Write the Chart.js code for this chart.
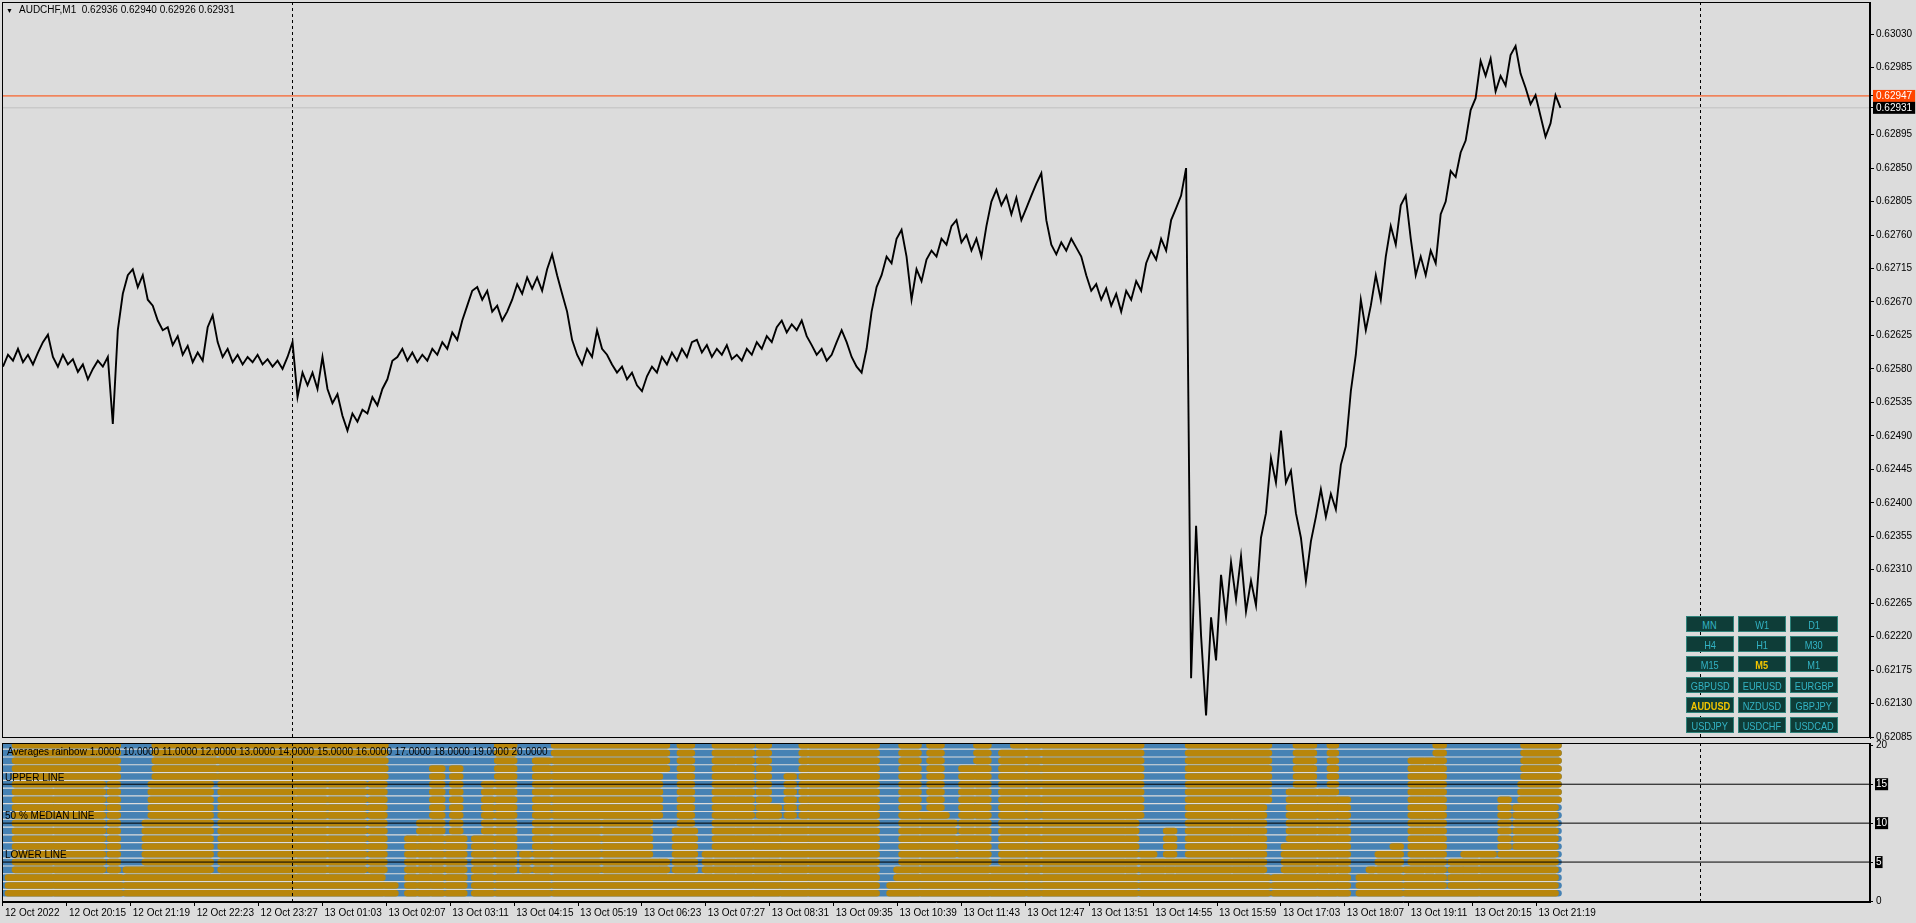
<!DOCTYPE html>
<html>
<head>
<meta charset="utf-8">
<script src="https://cdn.jsdelivr.net/npm/chart.js@4.4.0/dist/chart.umd.min.js"></script>
<style>
html, body { margin:0; padding:0; background:#dcdcdc; width:1916px; height:923px; overflow:hidden; font-family:'Liberation Sans', Arial, sans-serif; }
canvas { position:absolute; left:0; }
#priceChart { top:0; }
#rainbowChart { top:736px; }
.lbl { position:absolute; font-size:10px; color:#000; white-space:pre; line-height:12px; }
.btn { position:absolute; width:46px; height:14px; background:#0e3d38; border:1px solid #2e827a; color:#33b3c4; text-align:center; line-height:14px; overflow:hidden; }
.btn span { display:inline-block; font-size:11px; transform:scaleX(0.84); }
.btn.on { color:#f2c500; }
.btn.on span { font-weight:bold; }
</style>
</head>
<body>
<canvas id="priceChart" width="1916" height="741"></canvas>
<canvas id="rainbowChart" width="1916" height="187"></canvas>
<div class="lbl" style="left:6px;top:5px;font-size:7px;">&#9660;</div>
<div class="lbl" style="left:19px;top:4px;">AUDCHF,M1  0.62936 0.62940 0.62926 0.62931</div>
<div class="lbl" style="left:7px;top:746px;">Averages rainbow 1.0000 10.0000 11.0000 12.0000 13.0000 14.0000 15.0000 16.0000 17.0000 18.0000 19.0000 20.0000</div>
<div id="levelLabels"></div>
<div id="buttons"></div>
<script>
// bar axis labels (one every 64 bars)
var xTickLabels = ["12 Oct 2022", "12 Oct 20:15", "12 Oct 21:19", "12 Oct 22:23", "12 Oct 23:27",
    "13 Oct 01:03", "13 Oct 02:07", "13 Oct 03:11", "13 Oct 04:15", "13 Oct 05:19", "13 Oct 06:23",
    "13 Oct 07:27", "13 Oct 08:31", "13 Oct 09:35", "13 Oct 10:39", "13 Oct 11:43", "13 Oct 12:47",
    "13 Oct 13:51", "13 Oct 14:55", "13 Oct 15:59", "13 Oct 17:03", "13 Oct 18:07", "13 Oct 19:11",
    "13 Oct 20:15", "13 Oct 21:19"];
var barsPerLabel = 64;

var priceTicks = [0.62085, 0.62130, 0.62175, 0.62220, 0.62265, 0.62310, 0.62355, 0.62400, 0.62445,
    0.62490, 0.62535, 0.62580, 0.62625, 0.62670, 0.62715, 0.62760, 0.62805, 0.62850, 0.62895,
    0.62985, 0.63030];
var bidPrice = 0.62947;
var lastPrice = 0.62931;
var separatorBars = [289, 1700];

// AUDCHF M1 closes, one every 5 bars
var closeStep = 5;
var closes = [
    0.62583, 0.62599, 0.62591, 0.62607, 0.62589, 0.62599, 0.62586, 0.62602, 0.62616, 0.62626,
    0.62596, 0.62583, 0.62599, 0.62586, 0.62593, 0.62576, 0.62586, 0.62566, 0.62580, 0.62591,
    0.62583, 0.62596, 0.62506, 0.62632, 0.62681, 0.62706, 0.62714, 0.62690, 0.62706, 0.62673,
    0.62665, 0.62645, 0.62632, 0.62636, 0.62612, 0.62624, 0.62599, 0.62611, 0.62589, 0.62602,
    0.62591, 0.62636, 0.62652, 0.62616, 0.62596, 0.62607, 0.62589, 0.62599, 0.62586, 0.62596,
    0.62589, 0.62599, 0.62586, 0.62593, 0.62583, 0.62591, 0.62580, 0.62596, 0.62616, 0.62542,
    0.62575, 0.62558, 0.62575, 0.62553, 0.62596, 0.62553, 0.62534, 0.62546, 0.62517, 0.62497,
    0.62520, 0.62509, 0.62525, 0.62520, 0.62542, 0.62531, 0.62553, 0.62566, 0.62591, 0.62596,
    0.62607, 0.62591, 0.62602, 0.62589, 0.62599, 0.62591, 0.62607, 0.62599, 0.62616, 0.62607,
    0.62629, 0.62619, 0.62645, 0.62665, 0.62685, 0.62690, 0.62673, 0.62685, 0.62657, 0.62665,
    0.62645, 0.62657, 0.62673, 0.62694, 0.62681, 0.62703, 0.62688, 0.62703, 0.62685, 0.62714,
    0.62734, 0.62706, 0.62681, 0.62657, 0.62619, 0.62599, 0.62586, 0.62607, 0.62596, 0.62632,
    0.62607, 0.62599, 0.62586, 0.62575, 0.62583, 0.62566, 0.62575, 0.62558, 0.62550, 0.62570,
    0.62583, 0.62575, 0.62596, 0.62586, 0.62602, 0.62591, 0.62607, 0.62596, 0.62616, 0.62619,
    0.62602, 0.62612, 0.62596, 0.62607, 0.62599, 0.62612, 0.62593, 0.62599, 0.62591, 0.62607,
    0.62599, 0.62616, 0.62607, 0.62624, 0.62616, 0.62636, 0.62645, 0.62629, 0.62640, 0.62632,
    0.62645, 0.62624, 0.62612, 0.62599, 0.62607, 0.62591, 0.62599, 0.62616, 0.62632, 0.62616,
    0.62596, 0.62583, 0.62575, 0.62607, 0.62657, 0.62690, 0.62706, 0.62731, 0.62722, 0.62755,
    0.62767, 0.62731, 0.62673, 0.62714, 0.62698, 0.62727, 0.62739, 0.62731, 0.62755, 0.62747,
    0.62772, 0.62780, 0.62750, 0.62760, 0.62739, 0.62755, 0.62731, 0.62772, 0.62805, 0.62821,
    0.62800, 0.62813, 0.62788, 0.62810, 0.62780, 0.62796, 0.62813, 0.62829, 0.62843, 0.62780,
    0.62747, 0.62734, 0.62750, 0.62739, 0.62755, 0.62743, 0.62731, 0.62706, 0.62685, 0.62694,
    0.62673, 0.62688, 0.62665, 0.62681, 0.62657, 0.62685, 0.62673, 0.62698, 0.62685, 0.62722,
    0.62739, 0.62727, 0.62755, 0.62739, 0.62780, 0.62796, 0.62813, 0.62850, 0.62164, 0.62369,
    0.62221, 0.62114, 0.62246, 0.62188, 0.62303, 0.62246, 0.62320, 0.62270, 0.62328, 0.62254,
    0.62295, 0.62262, 0.62353, 0.62386, 0.62460, 0.62427, 0.62497, 0.62427, 0.62443, 0.62386,
    0.62353, 0.62295, 0.62348, 0.62381, 0.62418, 0.62381, 0.62412, 0.62391, 0.62451, 0.62476,
    0.62550, 0.62599, 0.62673, 0.62632, 0.62665, 0.62706, 0.62673, 0.62731, 0.62772, 0.62747,
    0.62800, 0.62813, 0.62755, 0.62706, 0.62731, 0.62706, 0.62739, 0.62722, 0.62788, 0.62805,
    0.62846, 0.62838, 0.62871, 0.62887, 0.62928, 0.62944, 0.62994, 0.62974, 0.62997, 0.62953,
    0.62974, 0.62961, 0.63002, 0.63014, 0.62977, 0.62958, 0.62936, 0.62948, 0.62920, 0.62892,
    0.62910, 0.62948, 0.62931];

// Averages rainbow: 20 rows, orange where [fromBar, toBar, lowRow, highRow], blue elsewhere
var rainbowRows = [1, 2, 3, 4, 5, 6, 7, 8, 9, 10, 11, 12, 13, 14, 15, 16, 17, 18, 19, 20];
var rainbowLastBar = 1558;
var orangeBlocks = [
    [5, 49, 1, 3], [12, 49, 4, 20], [12, 115, 16, 20], [52, 100, 1, 15], [107, 115, 4, 15],
    [100, 118, 1, 3], [123, 147, 1, 4], [142, 208, 1, 10], [148, 208, 11, 15], [152, 213, 16, 20],
    [217, 383, 16, 20], [208, 380, 1, 3], [218, 292, 4, 15], [295, 323, 4, 15], [327, 362, 4, 15],
    [368, 382, 4, 18], [383, 393, 1, 2],
    [405, 413, 1, 8], [417, 427, 1, 10], [430, 440, 1, 17], [445, 462, 1, 8], [450, 458, 1, 17],
    [472, 482, 1, 8], [482, 490, 1, 15], [495, 512, 1, 20], [513, 543, 1, 3], [520, 527, 1, 6],
    [533, 547, 1, 18], [552, 658, 11, 20], [552, 597, 1, 10], [602, 648, 1, 10], [552, 653, 1, 3],
    [648, 657, 1, 5], [657, 665, 17, 20], [658, 665, 1, 5], [667, 697, 1, 3], [673, 693, 1, 9],
    [678, 690, 1, 20], [698, 730, 1, 3], [703, 710, 1, 6], [713, 733, 1, 20], [735, 750, 1, 20],
    [753, 767, 1, 10], [757, 767, 11, 20], [768, 777, 1, 12], [780, 800, 1, 10], [785, 792, 11, 16],
    [800, 805, 1, 20], [808, 868, 1, 20], [868, 875, 1, 20], [888, 900, 1, 2], [900, 917, 1, 20],
    [895, 917, 1, 4], [928, 940, 1, 20], [920, 945, 1, 11], [945, 953, 1, 10], [950, 958, 1, 5],
    [960, 972, 1, 17], [958, 987, 1, 8], [975, 987, 1, 20], [990, 1023, 1, 4], [1000, 1013, 1, 19],
    [1012, 1023, 1, 20], [1027, 1038, 1, 20], [1042, 1140, 11, 20], [1042, 1123, 1, 10],
    [1125, 1135, 1, 12], [1140, 1153, 1, 6], [1153, 1163, 1, 5], [1165, 1173, 1, 9],
    [1175, 1200, 1, 5], [1187, 1200, 1, 20],
    [1200, 1268, 13, 20], [1200, 1247, 11, 12], [1200, 1230, 1, 10], [1232, 1247, 1, 10],
    [1248, 1263, 1, 14], [1200, 1267, 1, 3], [1273, 1282, 1, 3], [1295, 1313, 15, 20],
    [1288, 1315, 1, 14], [1283, 1315, 1, 7], [1318, 1327, 1, 14], [1329, 1335, 1, 20],
    [1338, 1347, 1, 13], [1358, 1375, 1, 3], [1368, 1373, 1, 4], [1377, 1392, 1, 6],
    [1392, 1400, 1, 7], [1405, 1423, 1, 4], [1410, 1423, 1, 18], [1425, 1433, 1, 18],
    [1435, 1443, 1, 20], [1443, 1448, 1, 1], [1450, 1462, 1, 5], [1463, 1477, 1, 6],
    [1480, 1493, 1, 6], [1493, 1510, 1, 5], [1500, 1508, 1, 13], [1510, 1515, 1, 6],
    [1523, 1558, 16, 20], [1520, 1558, 13, 15], [1515, 1555, 1, 12]];
var levelValues = [15, 10, 5];
var levelNames = ["UPPER LINE", "50 % MEDIAN LINE", "LOWER LINE"];
var rainbowTicks = [0, 5, 10, 15, 20];

var buttonLabels = ["MN", "W1", "D1", "H4", "H1", "M30", "M15", "M5", "M1",
    "GBPUSD", "EURUSD", "EURGBP", "AUDUSD", "NZDUSD", "GBPJPY", "USDJPY", "USDCHF", "USDCAD"];
var activeButtons = ["M5", "AUDUSD"];

var AXIS_FONT = { family: "'Liberation Sans', Arial, sans-serif", size: 10 };
var BLUE = '#4682b4';
var ORANGE = '#b8860b';

var panelBox = {
    id: 'panelBox',
    afterDatasetsDraw: function (chart) {
        var a = chart.chartArea, ctx = chart.ctx, x = chart.scales.x;
        ctx.save();
        ctx.strokeStyle = '#000';
        ctx.lineWidth = 1;
        ctx.setLineDash([3, 3]);
        separatorBars.forEach(function (b) {
            var px = Math.round(x.getPixelForValue(b)) + 0.5;
            ctx.beginPath();
            ctx.moveTo(px, a.top);
            ctx.lineTo(px, a.bottom);
            ctx.stroke();
        });
        ctx.setLineDash([]);
        ctx.strokeRect(a.left + 0.5, a.top + 0.5, a.right - a.left - 1, a.bottom - a.top - 1);
        ctx.restore();
    }
};

function fixAxis(width) {
    return function (s) {
        if (width) s.width = width;
        s.paddingTop = 0; s.paddingBottom = 0; s.paddingLeft = 0; s.paddingRight = 0;
    };
}

// main price window
var priceSets = [
    { data: closes.map(function (c, i) { return { x: i * closeStep, y: c }; }),
      borderColor: '#000', borderWidth: 1.9, pointRadius: 0, order: 0 },
    { data: [{ x: -1, y: bidPrice }, { x: 1870, y: bidPrice }],
      borderColor: '#ff4500', borderWidth: 1, pointRadius: 0, order: 1 },
    { data: [{ x: -1, y: lastPrice }, { x: 1870, y: lastPrice }],
      borderColor: '#c0c0c0', borderWidth: 1, pointRadius: 0, order: 2 }
];

new Chart('priceChart', {
    type: 'line',
    data: { datasets: priceSets },
    options: {
        responsive: false, animation: false, events: [],
        layout: { padding: { left: 2, top: 2, bottom: 3, right: 0 } },
        plugins: { legend: { display: false }, tooltip: { enabled: false } },
        scales: {
            x: { type: 'linear', display: false, min: -1, max: 1870 },
            y: {
                type: 'linear', position: 'right', min: 0.620837, max: 0.630733,
                afterFit: fixAxis(46),
                afterBuildTicks: function (s) {
                    s.ticks = priceTicks.concat([bidPrice, lastPrice]).map(function (v) { return { value: v }; });
                },
                grid: { drawOnChartArea: false, tickLength: 4, color: '#000' },
                border: { color: '#000' },
                ticks: {
                    padding: 2, font: AXIS_FONT,
                    callback: function (v) { return v.toFixed(5); },
                    color: function (c) { return (c.tick && (c.tick.value === bidPrice || c.tick.value === lastPrice)) ? '#fff' : '#000'; },
                    showLabelBackdrop: function (c) { return !!c.tick && (c.tick.value === bidPrice || c.tick.value === lastPrice); },
                    backdropColor: function (c) { return (c.tick && c.tick.value === bidPrice) ? '#ff4500' : '#000'; },
                    backdropPadding: { left: 3, right: 3, top: 0, bottom: 0 }
                }
            }
        }
    },
    plugins: [panelBox]
});

// Averages rainbow window
var rainbowSets = [];
levelValues.forEach(function (v) {
    rainbowSets.push({ data: [{ x: -1, y: v }, { x: 1870, y: v }], borderColor: '#000',
        borderWidth: 1, pointRadius: 0, order: 0, clip: 0 });
});
rainbowRows.forEach(function (row) {
    var blocks = orangeBlocks.filter(function (b) { return row >= b[2] && row <= b[3]; })
        .sort(function (a, b) { return a[0] - b[0]; });
    var pts = [];
    blocks.forEach(function (b) {
        pts.push({ x: b[0], y: row }, { x: b[1], y: row }, { x: b[1] + 0.5, y: null });
    });
    rainbowSets.push({ data: pts, borderColor: ORANGE, borderWidth: 6.6, borderCapStyle: 'round',
        pointRadius: 0, spanGaps: false, order: 1, clip: 0 });
    rainbowSets.push({ data: [{ x: 1, y: row }, { x: rainbowLastBar, y: row }], borderColor: BLUE,
        borderWidth: 6.6, borderCapStyle: 'round', pointRadius: 0, order: 2, clip: 0 });
});

new Chart('rainbowChart', {
    type: 'line',
    data: { datasets: rainbowSets },
    options: {
        responsive: false, animation: false, events: [],
        layout: { padding: { left: 2, top: 7, bottom: 0, right: 0 } },
        plugins: { legend: { display: false }, tooltip: { enabled: false } },
        scales: {
            x: {
                type: 'linear', position: 'bottom', min: -1, max: 1870,
                afterFit: function (s) { s.height = 21; s.paddingLeft = 0; s.paddingRight = 0; },
                afterBuildTicks: function (s) {
                    s.ticks = xTickLabels.map(function (t, i) { return { value: i * barsPerLabel }; });
                },
                grid: { drawOnChartArea: false, tickLength: 4, color: '#000' },
                border: { color: '#000' },
                ticks: {
                    align: 'start', maxRotation: 0, autoSkip: false, padding: 1, labelOffset: 2,
                    font: AXIS_FONT, color: '#000',
                    callback: function (v, i) { return xTickLabels[i]; }
                }
            },
            y: {
                type: 'linear', position: 'right', min: -0.128, max: 20.295,
                afterFit: fixAxis(46),
                afterBuildTicks: function (s) {
                    s.ticks = rainbowTicks.map(function (v) { return { value: v }; });
                },
                grid: { drawOnChartArea: false, tickLength: 3, color: '#000' },
                border: { color: '#000' },
                ticks: {
                    padding: 3, font: AXIS_FONT,
                    callback: function (v) { return String(v); },
                    color: function (c) { return (c.tick && levelValues.indexOf(c.tick.value) >= 0) ? '#fff' : '#000'; },
                    showLabelBackdrop: function (c) { return !!c.tick && levelValues.indexOf(c.tick.value) >= 0; },
                    backdropColor: '#000',
                    backdropPadding: { left: 1, right: 1, top: 0, bottom: 0 }
                }
            }
        }
    },
    plugins: [panelBox]
});

// level captions and the symbol / timeframe buttons
var levelTop = [772, 810, 849];
var lv = document.getElementById('levelLabels');
levelNames.forEach(function (n, i) {
    var d = document.createElement('div');
    d.className = 'lbl';
    d.style.left = '5px';
    d.style.top = levelTop[i] + 'px';
    d.textContent = n;
    lv.appendChild(d);
});
var bt = document.getElementById('buttons');
buttonLabels.forEach(function (n, i) {
    var d = document.createElement('div');
    d.className = 'btn' + (activeButtons.indexOf(n) >= 0 ? ' on' : '');
    d.style.left = (1686 + (i % 3) * 52) + 'px';
    d.style.top = (616 + Math.floor(i / 3) * 20.2) + 'px';
    var s = document.createElement('span');
    s.textContent = n;
    d.appendChild(s);
    bt.appendChild(d);
});
</script>
</body>
</html>
